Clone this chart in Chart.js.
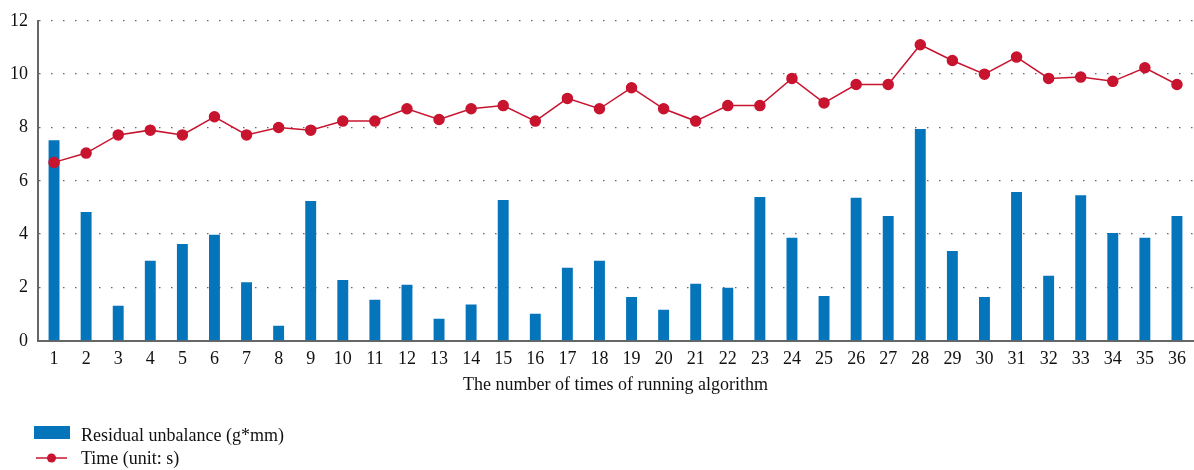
<!DOCTYPE html>
<html>
<head>
<meta charset="utf-8">
<script src="https://cdn.jsdelivr.net/npm/chart.js@4"></script>
<style>
  html, body { margin: 0; padding: 0; background: #fff; overflow: hidden; }
  #wrap { width: 1194px; height: 470px; position: relative; }
</style>
</head>
<body>
<div id="wrap"><canvas id="chart"></canvas></div>
<script>
// 실행 횟수 (x축)
const runs = ['1','2','3','4','5','6','7','8','9','10','11','12','13','14','15','16','17','18',
              '19','20','21','22','23','24','25','26','27','28','29','30','31','32','33','34','35','36'];

// 잔류 불평형 (g*mm)
const residual = [7.52, 4.83, 1.31, 3.0, 3.63, 3.98, 2.2, 0.56, 5.24, 2.28, 1.54, 2.1,
                  0.83, 1.36, 5.28, 1.01, 2.74, 3.0, 1.64, 1.16, 2.14, 1.99, 5.39, 3.86,
                  1.68, 5.36, 4.68, 7.94, 3.37, 1.64, 5.58, 2.44, 5.46, 4.04, 3.86, 4.68];

// 시간 (s)
const timeSec = [6.69, 7.04, 7.72, 7.9, 7.72, 8.4, 7.72, 8.0, 7.9, 8.24, 8.24, 8.7,
                 8.3, 8.7, 8.82, 8.24, 9.09, 8.7, 9.49, 8.7, 8.24, 8.82, 8.82, 9.84,
                 8.92, 9.61, 9.61, 11.1, 10.51, 10.0, 10.64, 9.84, 9.89, 9.73, 10.24, 9.61];

const yTicks = [0, 2, 4, 6, 8, 10, 12];

const labelBar = 'Residual unbalance (g*mm)';
const labelLine = 'Time (unit: s)';

const BLUE = '#0474bb';
const RED = '#c8142e';
const FONT = '"Liberation Serif", "DejaVu Serif", serif';

// 범례를 세로로 그리는 플러그인
const legendPlugin = {
    id: 'vLegend',
    afterDraw(chart) {
        const ctx = chart.ctx;
        ctx.save();
        ctx.font = '18px ' + FONT;
        ctx.textBaseline = 'middle';
        // bar
        ctx.fillStyle = BLUE;
        ctx.fillRect(34, 426, 36, 13);
        ctx.fillStyle = '#111';
        ctx.fillText(labelBar, 81, 436);
        // line
        ctx.strokeStyle = RED;
        ctx.lineWidth = 1.5;
        ctx.beginPath();
        ctx.moveTo(36, 458);
        ctx.lineTo(67, 458);
        ctx.stroke();
        ctx.fillStyle = RED;
        ctx.beginPath();
        ctx.arc(51.5, 458, 4.5, 0, Math.PI * 2);
        ctx.fill();
        ctx.fillStyle = '#111';
        ctx.fillText(labelLine, 81, 459);
        ctx.restore();
    }
};

const ctx = document.getElementById('chart').getContext('2d');
new Chart(ctx, {
    data: {
        labels: runs,
        datasets: [
            {
                type: 'line',
                label: labelLine,
                data: timeSec,
                borderColor: RED,
                backgroundColor: RED,
                borderWidth: 1.5,
                pointRadius: 5,
                pointHoverRadius: 5,
                tension: 0,
                order: 0
            },
            {
                type: 'bar',
                label: labelBar,
                data: residual,
                backgroundColor: BLUE,
                barPercentage: 0.34,
                categoryPercentage: 1.0,
                order: 1
            }
        ]
    },
    options: {
        responsive: true,
        maintainAspectRatio: false,
        animation: false,
        layout: {
            autoPadding: false,  // 점 반지름 만큼 자동 여백 생기는 것 막기
            padding: { left: 0, right: 1, top: 11, bottom: 74 }
        },
        plugins: {
            legend: { display: false },
            tooltip: { enabled: false }
        },
        scales: {
            x: {
                offset: true,
                grid: { display: false, drawTicks: false },
                border: { display: true, color: '#666', width: 2 },
                ticks: {
                    color: '#111',
                    font: { family: FONT, size: 18 },
                    padding: 8,
                    maxRotation: 0,
                    autoSkip: false
                },
                title: {
                    display: true,
                    text: 'The number of times of running algorithm',
                    color: '#111',
                    font: { family: FONT, size: 18 },
                    padding: { top: -4, bottom: 0 }
                }
            },
            y: {
                min: 0,
                max: 12,
                afterBuildTicks(axis) {
                    axis.ticks = yTicks.map(v => ({ value: v }));
                },
                grid: {
                    color: '#666',
                    lineWidth: 1.3,
                    drawTicks: false
                },
                border: { display: true, color: '#666', width: 2, dash: [1.5, 10.5] },
                ticks: {
                    color: '#111',
                    font: { family: FONT, size: 18 },
                    padding: 10
                }
            }
        }
    },
    plugins: [legendPlugin]
});
</script>
</body>
</html>
